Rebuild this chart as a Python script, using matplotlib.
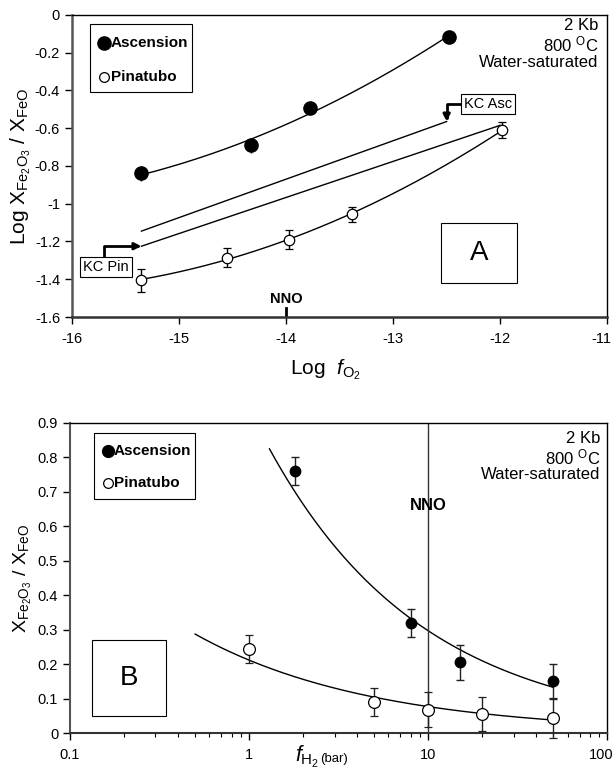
import numpy as np
import matplotlib
matplotlib.use("Agg")
import matplotlib.pyplot as plt
import matplotlib.transforms as mtransforms
from matplotlib.patches import Rectangle
from matplotlib.ticker import FixedLocator, FuncFormatter, LogLocator, NullFormatter

plt.rcParams['font.family'] = ['Liberation Sans', 'DejaVu Sans']
plt.rcParams['mathtext.fontset'] = 'custom'
plt.rcParams['mathtext.rm'] = 'Liberation Sans'
plt.rcParams['mathtext.it'] = 'Liberation Sans:italic'
plt.rcParams['mathtext.bf'] = 'Liberation Sans:bold'

# ---------------- Panel A data ----------------
asc_logfo2 = [-15.35, -14.33, -13.78, -12.48]
asc_logratio = [-0.84, -0.69, -0.495, -0.115]
asc_err_a = [0.04, 0.04, 0.0, 0.0]

pin_logfo2 = [-15.35, -14.55, -13.97, -13.38, -11.98]
pin_logratio = [-1.405, -1.285, -1.19, -1.055, -0.61]
pin_err_a = [0.06, 0.05, 0.05, 0.04, 0.04]

kc_asc_x = [-15.35, -12.5]
kc_asc_y = [-1.145, -0.565]
kc_pin_x = [-15.35, -12.0]
kc_pin_y = [-1.225, -0.585]

a_xticks = [-16, -15, -14, -13, -12, -11]
a_yticks = [0, -0.2, -0.4, -0.6, -0.8, -1.0, -1.2, -1.4, -1.6]
nno_a = -14

# ---------------- Panel B data ----------------
asc_fh2 = [1.8, 8, 15, 50]
asc_ratio = [0.76, 0.32, 0.205, 0.15]
asc_err_b = [0.04, 0.04, 0.05, 0.05]

pin_fh2 = [1, 5, 10, 20, 50]
pin_ratio = [0.244, 0.09, 0.068, 0.055, 0.044]
pin_err_b = [0.04, 0.04, 0.05, 0.05, 0.057]

b_yticks = [0, 0.1, 0.2, 0.3, 0.4, 0.5, 0.6, 0.7, 0.8, 0.9]
b_xticks = [0.1, 1, 10, 100]
nno_b = 10
asc_fit_range = [1.3, 50]
pin_fit_range = [0.5, 50]

fig = plt.figure(figsize=(6.14, 7.79), dpi=100)

FS = 10.5


def shift_last_xlabel(ax):
    fig.canvas.draw()
    lab = ax.get_xticklabels()[-1]
    lab.set_transform(lab.get_transform() +
                      mtransforms.ScaledTranslation(-6 / 100, 0, fig.dpi_scale_trans))


# ================= Panel A =================
axA = fig.add_axes([0.117, 0.593, 0.872, 0.388])
axA.set_xlim(-16, -11)
axA.set_ylim(-1.6, 0)

ca = np.polyfit(asc_logfo2, asc_logratio, 2)
xs = np.linspace(min(asc_logfo2), max(asc_logfo2), 200)
axA.plot(xs, np.polyval(ca, xs), color='black', lw=1.0, zorder=2)
cp = np.polyfit(pin_logfo2, pin_logratio, 2)
xs = np.linspace(min(pin_logfo2), max(pin_logfo2), 200)
axA.plot(xs, np.polyval(cp, xs), color='black', lw=1.0, zorder=2)

axA.plot(kc_asc_x, kc_asc_y, color='black', lw=1.0)
axA.plot(kc_pin_x, kc_pin_y, color='black', lw=1.0)

axA.errorbar(asc_logfo2, asc_logratio, yerr=asc_err_a, fmt='o', color='black',
             ms=9.5, mfc='black', mec='black', ecolor='black', elinewidth=1,
             capsize=0, zorder=4)
axA.errorbar(pin_logfo2, pin_logratio, yerr=pin_err_a, fmt='o', color='black',
             ms=7.5, mfc='white', mec='black', mew=0.9, ecolor='black',
             elinewidth=1, capsize=3, zorder=4)

# KC arrows
axA.annotate('', xy=(kc_pin_x[0], kc_pin_y[0]), xytext=(-15.70, -1.28),
             arrowprops=dict(arrowstyle='-|>', color='black', lw=2,
                             connectionstyle='angle,angleA=90,angleB=0,rad=0',
                             mutation_scale=10, shrinkA=0, shrinkB=0))
axA.text(-15.68, -1.335, 'KC Pin', fontsize=FS, ha='center', va='center',
         bbox=dict(boxstyle='square,pad=0.2', fc='white', ec='black', lw=0.8))
axA.annotate('', xy=(kc_asc_x[1], kc_asc_y[1]), xytext=(-12.36, -0.47),
             arrowprops=dict(arrowstyle='-|>', color='black', lw=2,
                             connectionstyle='angle,angleA=0,angleB=90,rad=0',
                             mutation_scale=10, shrinkA=0, shrinkB=0))
axA.text(-12.11, -0.47, 'KC Asc', fontsize=FS, ha='center', va='center',
         bbox=dict(boxstyle='square,pad=0.2', fc='white', ec='black', lw=0.8))

# legend box
axA.add_patch(Rectangle((-15.83, -0.408), 0.95, 0.36, fill=False, ec='black', lw=0.8))
axA.plot([-15.70], [-0.147], 'o', ms=9.5, color='black')
axA.text(-15.635, -0.147, 'Ascension', fontsize=FS + 0.5, fontweight='bold', va='center')
axA.plot([-15.70], [-0.327], 'o', ms=7, mfc='white', mec='black', mew=0.9)
axA.text(-15.635, -0.327, 'Pinatubo', fontsize=FS + 0.5, fontweight='bold', va='center')

# box A
axA.add_patch(Rectangle((-12.55, -1.42), 0.71, 0.32, fill=False, ec='black', lw=0.8))
axA.text(-12.195, -1.26, 'A', fontsize=20, ha='center', va='center')

SUPC = '800 $^{\\mathrm{O}}$C'
axA.text(-11.08, -0.055, '2 Kb', fontsize=FS + 1.5, ha='right', va='center')
axA.text(-11.08, -0.155, SUPC, fontsize=FS + 1.5, ha='right', va='center')
axA.text(-11.08, -0.255, 'Water-saturated', fontsize=FS + 1.5, ha='right', va='center')

axA.text(nno_a, -1.505, 'NNO', fontsize=FS, fontweight='bold', ha='center', va='center')
axA.plot([nno_a, nno_a], [-1.6, -1.55], color='black', lw=2)

axA.xaxis.set_major_locator(FixedLocator(a_xticks))
axA.yaxis.set_major_locator(FixedLocator(a_yticks))
axA.yaxis.set_major_formatter(FuncFormatter(lambda v, p: '%g' % round(v, 2)))
axA.xaxis.set_major_formatter(FuncFormatter(lambda v, p: '%g' % v))
axA.tick_params(direction='out', length=5, labelsize=FS, width=1)
axA.tick_params(axis='x', pad=6)
for s in axA.spines.values():
    s.set_linewidth(1.0)
axA.spines['left'].set_color('#555555')
axA.spines['bottom'].set_color('#333333')
axA.spines['left'].set_linewidth(1.8)
axA.spines['bottom'].set_linewidth(1.8)
axA.set_xlabel('Log  $\\mathit{f}_{\\mathrm{O_2}}$', fontsize=FS + 4.5)
axA.xaxis.set_label_coords(0.474, -0.135)
axA.set_ylabel('Log X$_{\\mathrm{Fe_2O_3}}$ / X$_{\\mathrm{FeO}}$', fontsize=15, labelpad=1)

# ================= Panel B =================
axB = fig.add_axes([0.114, 0.059, 0.875, 0.398])
axB.set_xscale('log')
axB.set_xlim(0.1, 100)
axB.set_ylim(0, 0.9)

ba, la = np.polyfit(np.log(asc_fh2), np.log(asc_ratio), 1)
xs = np.logspace(np.log10(asc_fit_range[0]), np.log10(asc_fit_range[1]), 200)
axB.plot(xs, np.exp(la) * xs ** ba, color='black', lw=1.0)
bp, lp = np.polyfit(np.log(pin_fh2), np.log(pin_ratio), 1)
xs = np.logspace(np.log10(pin_fit_range[0]), np.log10(pin_fit_range[1]), 200)
axB.plot(xs, np.exp(lp) * xs ** bp, color='black', lw=1.0)

axB.axvline(nno_b, color='#333333', lw=1.0)
axB.text(nno_b, 0.66, 'NNO', fontsize=FS + 1.5, fontweight='bold', ha='center', va='center')

axB.errorbar(asc_fh2, asc_ratio, yerr=asc_err_b, fmt='o', color='black', ms=7.5,
             mfc='black', mec='black', ecolor='#222222', elinewidth=1, capsize=3,
             zorder=4)
eb = axB.errorbar(pin_fh2, pin_ratio, yerr=pin_err_b, fmt='o', color='black', ms=8.5,
                  mfc='white', mec='black', mew=0.9, ecolor='#222222', elinewidth=1,
                  capsize=3, zorder=4)
for art in list(eb.lines[1]) + list(eb.lines[2]):
    art.set_clip_on(False)

# legend box
axB.add_patch(Rectangle((0.136, 0.68), 0.50 - 0.136, 0.191, fill=False,
                        ec='black', lw=0.8))
axB.plot([0.164], [0.820], 'o', ms=8.5, color='black')
axB.text(0.176, 0.820, 'Ascension', fontsize=FS + 0.5, fontweight='bold', va='center')
axB.plot([0.164], [0.725], 'o', ms=7, mfc='white', mec='black', mew=0.9)
axB.text(0.176, 0.725, 'Pinatubo', fontsize=FS + 0.5, fontweight='bold', va='center')

# box B
axB.add_patch(Rectangle((0.133, 0.05), 0.345 - 0.133, 0.22, fill=False, ec='black', lw=0.8))
axB.text(0.214, 0.16, 'B', fontsize=20, ha='center', va='center')

axB.text(92, 0.855, '2 Kb', fontsize=FS + 1.5, ha='right', va='center')
axB.text(92, 0.8, SUPC, fontsize=FS + 1.5, ha='right', va='center')
axB.text(92, 0.75, 'Water-saturated', fontsize=FS + 1.5, ha='right', va='center')

axB.xaxis.set_major_locator(FixedLocator(b_xticks))
axB.xaxis.set_major_formatter(FuncFormatter(lambda v, p: '%g' % v))
axB.xaxis.set_minor_locator(LogLocator(base=10, subs=np.arange(2, 10), numticks=20))
axB.xaxis.set_minor_formatter(NullFormatter())
axB.yaxis.set_major_locator(FixedLocator(b_yticks))
axB.yaxis.set_major_formatter(FuncFormatter(lambda v, p: '%g' % round(v, 2)))
axB.tick_params(direction='out', length=5, labelsize=FS, width=1)
axB.tick_params(axis='x', which='minor', direction='out', length=3, width=0.8)
axB.tick_params(axis='x', pad=6)
for s in axB.spines.values():
    s.set_linewidth(1.0)
axB.spines['left'].set_color('#555555')
axB.spines['bottom'].set_color('#333333')
axB.spines['left'].set_linewidth(1.5)
axB.spines['bottom'].set_linewidth(1.5)
fig.text(0.52, 0.012, '$\\mathit{f}_{\\mathrm{H_2}}$', fontsize=FS + 5, ha='right', va='bottom')
fig.text(0.522, 0.018, '(bar)', fontsize=FS - 1, ha='left', va='bottom')
axB.set_ylabel('X$_{\\mathrm{Fe_2O_3}}$ / X$_{\\mathrm{FeO}}$', fontsize=14, labelpad=3)

shift_last_xlabel(axA)
shift_last_xlabel(axB)

fig.savefig('out.png', dpi=100)
